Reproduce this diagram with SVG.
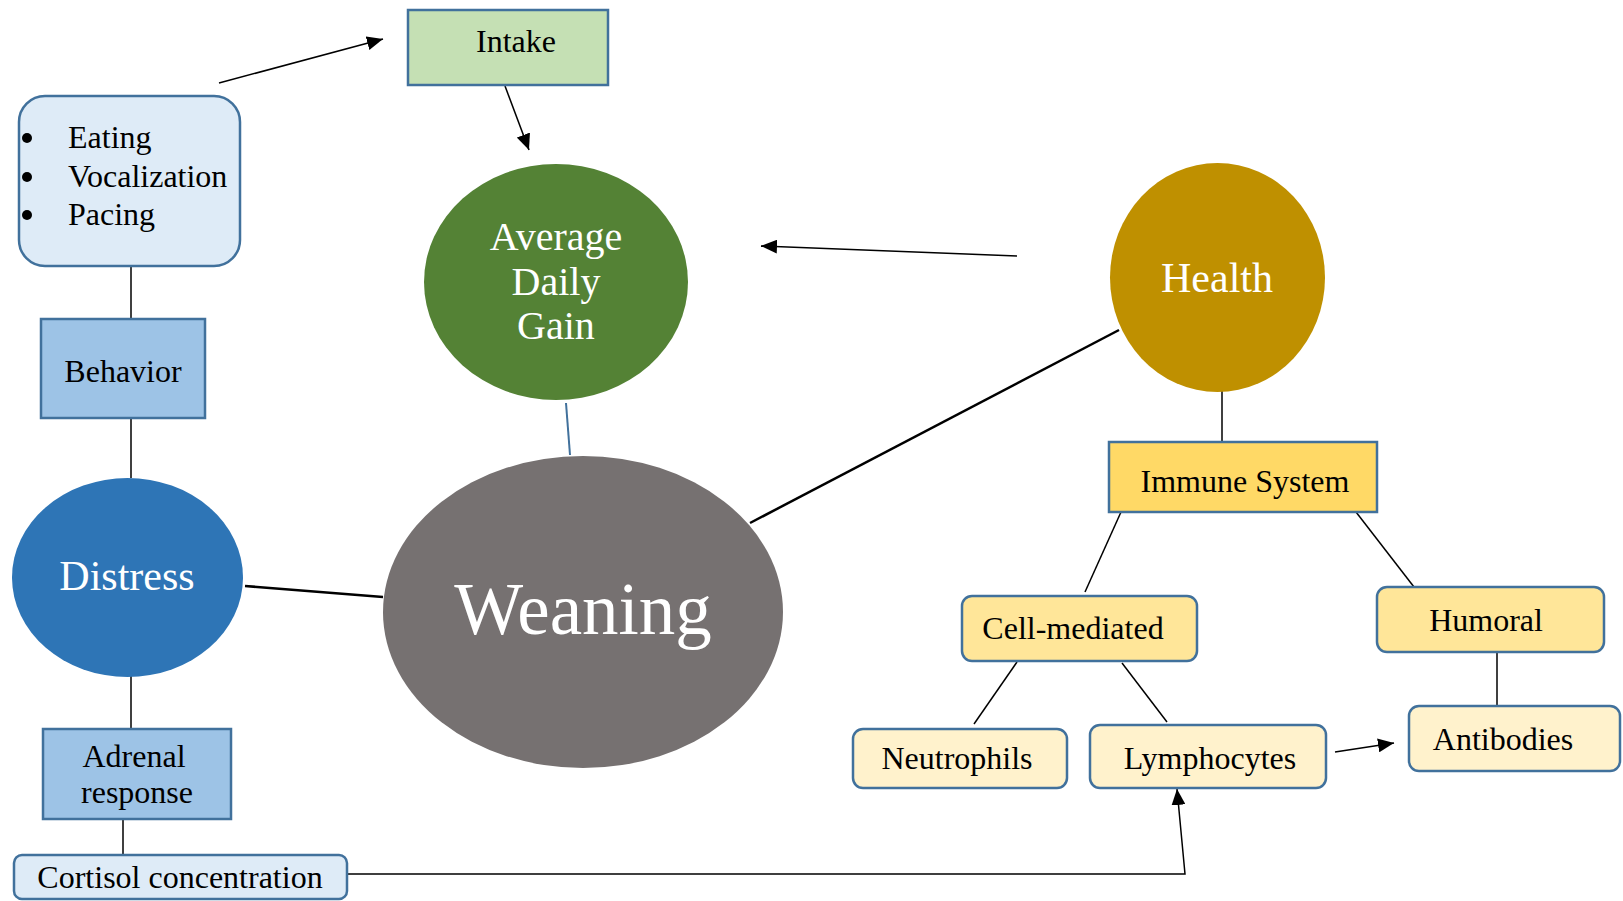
<svg xmlns="http://www.w3.org/2000/svg" width="1623" height="901" viewBox="0 0 1623 901">
<style>
text{font-family:"Liberation Serif","Times New Roman",serif;text-anchor:middle}
.lbl{font-size:32px;fill:#000}
.wt{fill:#fff}
.box{stroke:#41719c;stroke-width:2.5}
.ln{stroke:#000;stroke-width:1.5;fill:none}
.thick{stroke:#000;stroke-width:2.5;fill:none}
</style>
<defs>
<marker id="ah" markerUnits="userSpaceOnUse" markerWidth="18" markerHeight="14" refX="16" refY="7" orient="auto">
<path d="M0,0 L16,7 L0,14 Z" fill="#000"/>
</marker>
</defs>
<rect width="1623" height="901" fill="#fff"/>
<g id="connectors">
<line class="ln" x1="219" y1="83" x2="383" y2="39" marker-end="url(#ah)"/>
<line class="ln" x1="505" y1="86" x2="529" y2="150" marker-end="url(#ah)"/>
<line class="ln" x1="131" y1="267" x2="131" y2="319"/>
<line class="ln" x1="131" y1="418" x2="131" y2="478"/>
<line class="ln" x1="131" y1="668" x2="131" y2="729"/>
<line class="ln" x1="123" y1="819" x2="123" y2="855"/>
<line class="thick" x1="245" y1="586" x2="383" y2="597"/>
<line x1="566" y1="403" x2="570" y2="455" stroke="#41719c" stroke-width="2"/>
<line class="ln" x1="1017" y1="256" x2="761" y2="246" marker-end="url(#ah)"/>
<line class="thick" x1="750" y1="523" x2="1119" y2="330"/>
<line class="ln" x1="1222" y1="387" x2="1222" y2="442"/>
<line class="ln" x1="1121" y1="512" x2="1085" y2="592"/>
<line class="ln" x1="1356" y1="512" x2="1414" y2="587"/>
<line class="ln" x1="1017" y1="662" x2="974" y2="724"/>
<line class="ln" x1="1122" y1="663" x2="1167" y2="722"/>
<line class="ln" x1="1497" y1="648" x2="1497" y2="706"/>
<line class="ln" x1="1335" y1="752" x2="1394" y2="743" marker-end="url(#ah)"/>
<polyline class="ln" points="347,874 1185,874 1177,789" marker-end="url(#ah)"/>
</g>
<g id="intake">
<rect class="box" x="408" y="10" width="200" height="75" fill="#c5e0b4"/>
<text class="lbl" x="516" y="52">Intake</text>
</g>
<g id="behaviors">
<rect class="box" x="19" y="96" width="221" height="170" rx="26" fill="#deebf7"/>
<circle cx="27" cy="138" r="5" fill="#000"/>
<circle cx="27" cy="177" r="5" fill="#000"/>
<circle cx="27" cy="215" r="5" fill="#000"/>
<text class="lbl" x="68" y="148" style="text-anchor:start">Eating</text>
<text class="lbl" x="68" y="187" style="text-anchor:start">Vocalization</text>
<text class="lbl" x="68" y="225" style="text-anchor:start">Pacing</text>
</g>
<g id="behavior">
<rect class="box" x="41" y="319" width="164" height="99" fill="#9dc3e6"/>
<text class="lbl" x="123" y="382">Behavior</text>
</g>
<g id="distress">
<ellipse cx="127.5" cy="577.5" rx="115.5" ry="99.5" fill="#2e75b6"/>
<text class="wt" x="127" y="590" font-size="42">Distress</text>
</g>
<g id="adrenal">
<rect class="box" x="43" y="729" width="188" height="90" fill="#9dc3e6"/>
<text class="lbl" x="134" y="767">Adrenal</text>
<text class="lbl" x="137" y="803">response</text>
</g>
<g id="cortisol">
<rect class="box" x="14" y="855" width="333" height="44" rx="8" fill="#deebf7"/>
<text class="lbl" x="180" y="888">Cortisol concentration</text>
</g>
<g id="adg">
<ellipse cx="556" cy="282" rx="132" ry="118" fill="#548235"/>
<text class="wt" x="556" y="250" font-size="40">Average</text>
<text class="wt" x="556" y="295" font-size="40">Daily</text>
<text class="wt" x="556" y="339" font-size="40">Gain</text>
</g>
<g id="weaning">
<ellipse cx="583" cy="612" rx="200" ry="156" fill="#767171"/>
<text class="wt" x="583" y="634" font-size="73">Weaning</text>
</g>
<g id="health">
<ellipse cx="1217.5" cy="277.5" rx="107.5" ry="114.5" fill="#bf9000"/>
<text class="wt" x="1217" y="292" font-size="42">Health</text>
</g>
<g id="immune">
<rect class="box" x="1109" y="442" width="268" height="70" fill="#ffd966"/>
<text class="lbl" x="1245" y="492">Immune System</text>
</g>
<g id="cellmediated">
<rect class="box" x="962" y="596" width="235" height="65" rx="10" fill="#ffe699"/>
<text class="lbl" x="1073" y="639">Cell-mediated</text>
</g>
<g id="humoral">
<rect class="box" x="1377" y="587" width="227" height="65" rx="10" fill="#ffe699"/>
<text class="lbl" x="1486" y="631">Humoral</text>
</g>
<g id="neutrophils">
<rect class="box" x="853" y="729" width="214" height="59" rx="10" fill="#fff2cc"/>
<text class="lbl" x="957" y="769">Neutrophils</text>
</g>
<g id="lymphocytes">
<rect class="box" x="1090" y="725" width="236" height="63" rx="10" fill="#fff2cc"/>
<text class="lbl" x="1210" y="769">Lymphocytes</text>
</g>
<g id="antibodies">
<rect class="box" x="1409" y="706" width="211" height="65" rx="10" fill="#fff2cc"/>
<text class="lbl" x="1503" y="750">Antibodies</text>
</g>
</svg>
